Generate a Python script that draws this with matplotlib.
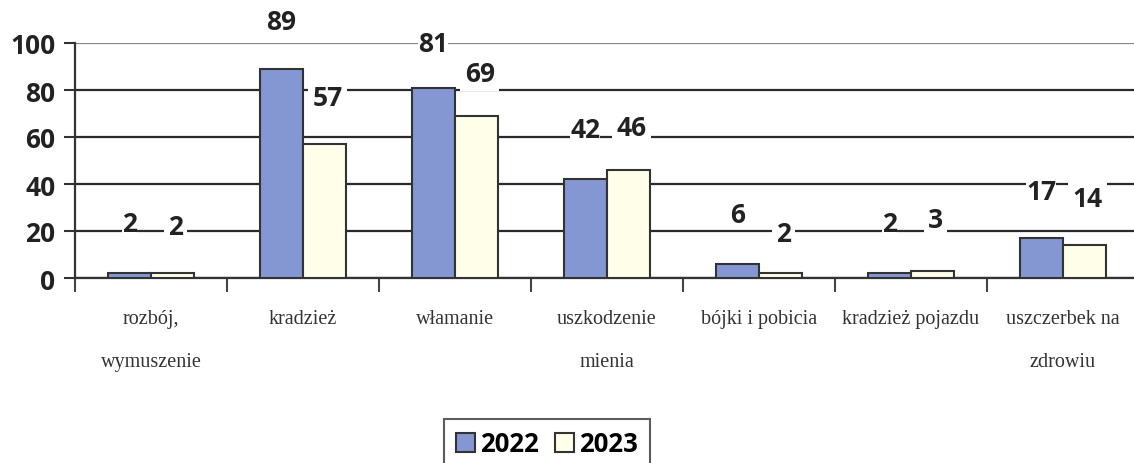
import numpy as np
import matplotlib.pyplot as plt

categories = ['rozbój,\nwymuszenie', 'kradzież', 'włamanie', 'uszkodzenie\nmienia',
              'bójki i pobicia', 'kradzież pojazdu', 'uszczerbek na\nzdrowiu']
v2022 = [2, 89, 81, 42, 6, 2, 17]
v2023 = [2, 57, 69, 46, 2, 3, 14]
# where Excel left the data labels (in value units)
lab_y_2022 = [23, 109, 100, 63, 27, 23, 37]
lab_y_2023 = [22, 77, 87, 64, 19, 25, 34]

fig = plt.figure(figsize=(11.34, 4.64), dpi=100)
ax = fig.add_axes([75/1134, 1 - 279/464, 1064/1134, 235/464])

x = np.arange(len(categories))
w = 0.285
ax.bar(x - w/2, v2022, w, color='#8497d2', edgecolor='#333333', linewidth=1.5, label='2022', zorder=3)
ax.bar(x + w/2, v2023, w, color='#fefee9', edgecolor='#333333', linewidth=1.5, label='2023', zorder=3)

for i in range(len(categories)):
    ax.text(x[i] - w/2, lab_y_2022[i], str(v2022[i]), ha='center', va='center',
            fontsize=19, fontweight='bold', family='Open Sans', color='#222222',
            bbox=dict(facecolor='white', edgecolor='none', pad=0), zorder=4)
    ax.text(x[i] + w/2 + 0.02, lab_y_2023[i], str(v2023[i]), ha='center', va='center',
            fontsize=19, fontweight='bold', family='Open Sans', color='#222222',
            bbox=dict(facecolor='white', edgecolor='none', pad=3), zorder=4)

ax.set_ylim(0, 100)
ax.set_xlim(-0.5, len(categories) - 0.5)
ax.set_yticks([0, 20, 40, 60, 80, 100])
ax.yaxis.grid(True, color='#2a2a2a', linewidth=1.6, zorder=0)
ax.get_ygridlines()[-1].set_color('#888888')
ax.set_axisbelow(True)
for lab in ax.get_yticklabels():
    lab.set_fontfamily('Open Sans')
    lab.set_fontweight('bold')
    lab.set_fontsize(19)
    lab.set_color('#222222')
ax.tick_params(axis='y', length=8, width=1.5, color='#333333', pad=6)

ax.set_xticks(np.arange(-0.5, len(categories) + 0.5, 1))
ax.set_xticklabels([])
ax.tick_params(axis='x', length=10, width=1.5, color='#444444')
ax.set_xticks(x, minor=True)
ax.set_xticklabels(categories, minor=True, family='Liberation Serif', fontsize=14.5,
                   color='#333333', linespacing=2.75, va='top')
ax.tick_params(axis='x', which='minor', length=0, pad=22)

for s in ['top', 'right']:
    ax.spines[s].set_visible(False)
ax.spines['left'].set_color('#333333')
ax.spines['left'].set_linewidth(1.6)
ax.spines['bottom'].set_color('#333333')
ax.spines['bottom'].set_linewidth(1.6)

leg = fig.legend(loc='center', bbox_to_anchor=(547/1134, 1 - 445/464), ncol=2,
                 prop={'family': 'Open Sans', 'weight': 'bold', 'size': 18.5},
                 frameon=True, fancybox=False, edgecolor='#333333',
                 handlelength=0.75, handleheight=0.75, handletextpad=0.2, columnspacing=0.6,
                 borderpad=0.45)
leg.get_frame().set_linewidth(1.5)

fig.savefig('out.png', dpi=100)
